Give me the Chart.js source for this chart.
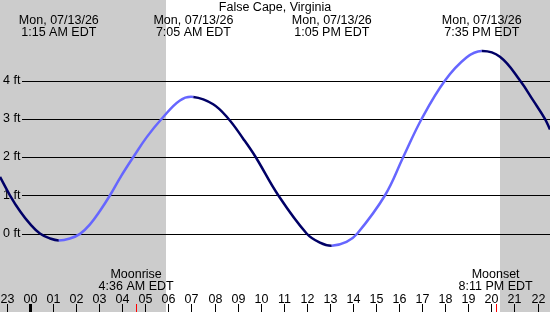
<!DOCTYPE html>
<html>
<head>
<meta charset="utf-8">
<script src="https://cdn.jsdelivr.net/npm/chart.js@4.4.1/dist/chart.umd.min.js"></script>
<style>
    html, body { margin: 0; padding: 0; background: #fff; }
    #wrap { width: 550px; height: 312px; }
</style>
</head>
<body>
<div id="wrap"><canvas id="tideChart" width="550" height="312"></canvas></div>
<script>
// tide curve (hours from midnight, feet)
const tideHours = [-1.30, -0.87, -0.43, 0.00, 0.43, 0.87, 1.25, 1.73, 2.17, 2.60, 3.03, 3.47, 3.95, 4.48, 5.06, 5.71, 6.50, 7.08, 7.94, 8.60, 9.24, 9.78, 10.76, 11.99, 12.57, 13.08, 13.72, 14.19, 15.39, 16.18, 16.98, 17.99, 18.92, 19.58, 20.37, 21.24, 21.81, 22.32, 22.54];
const tideFeet  = [1.48, 1.00, 0.58, 0.25, 0.00, -0.13, -0.18, -0.13, -0.01, 0.24, 0.59, 1.00, 1.50, 2.00, 2.52, 3.00, 3.48, 3.57, 3.38, 3.00, 2.48, 2.00, 1.00, 0.00, -0.24, -0.32, -0.22, 0.00, 1.00, 2.00, 3.00, 4.00, 4.60, 4.77, 4.62, 4.00, 3.48, 3.00, 2.72];

const feetTicks = [0, 1, 2, 3, 4];
const hourTicks  = [-1, 0, 1, 2, 3, 4, 5, 6, 7, 8, 9, 10, 11, 12, 13, 14, 15, 16, 17, 18, 19, 20, 21, 22];
const hourLabels = ['23', '00', '01', '02', '03', '04', '05', '06', '07', '08', '09', '10', '11', '12', '13', '14', '15', '16', '17', '18', '19', '20', '21', '22'];

const extremeHours = [1.25, 7.083, 13.083, 19.583];
const extremeDates = ['Mon, 07/13/26', 'Mon, 07/13/26', 'Mon, 07/13/26', 'Mon, 07/13/26'];
const extremeTimes = ['1:15 AM EDT', '7:05 AM EDT', '1:05 PM EDT', '7:35 PM EDT'];

const moonHours = [4.6, 20.183];
const moonNames = ['Moonrise', 'Moonset'];
const moonTimes = ['4:36 AM EDT', '8:11 PM EDT'];

const sunrise = 5.9;
const sunset = 20.367;

const title = 'False Cape, Virginia';
const FONT = '12.5px "Liberation Sans", Arial, sans-serif';
const FALLING = '#000066';
const RISING = '#6666ff';

const nightShade = {
    id: 'nightShade',
    beforeDraw(chart) {
        const { ctx, width, height } = chart;
        const x = chart.scales.x;
        const a = Math.round(x.getPixelForValue(sunrise));
        const b = Math.round(x.getPixelForValue(sunset));
        ctx.save();
        ctx.fillStyle = '#fff';
        ctx.fillRect(0, 0, width, height);
        ctx.fillStyle = '#cccccc';
        ctx.fillRect(0, 0, a, height);
        ctx.fillRect(b, 0, width - b, height);
        ctx.restore();
    }
};

const feetLines = {
    id: 'feetLines',
    beforeDatasetsDraw(chart) {
        const { ctx, width } = chart;
        const y = chart.scales.y;
        ctx.save();
        ctx.strokeStyle = '#000';
        ctx.lineWidth = 1;
        y.ticks.forEach(t => {
            const py = Math.round(y.getPixelForValue(t.value)) + 0.5;
            ctx.beginPath();
            ctx.moveTo(22, py);
            ctx.lineTo(width, py);
            ctx.stroke();
        });
        ctx.restore();
    }
};

const annotations = {
    id: 'annotations',
    afterDraw(chart) {
        const { ctx, width } = chart;
        const x = chart.scales.x;
        ctx.save();
        ctx.font = FONT;
        ctx.fillStyle = '#000';
        ctx.textAlign = 'center';
        ctx.textBaseline = 'alphabetic';

        ctx.fillText(title, width / 2, 11);

        extremeHours.forEach((h, i) => {
            const px = x.getPixelForValue(h);
            ctx.fillText(extremeDates[i], px, 24);
            ctx.fillText(extremeTimes[i], px, 36);
        });

        moonHours.forEach((h, i) => {
            const px = x.getPixelForValue(h);
            ctx.fillText(moonNames[i], px, 278);
            ctx.fillText(moonTimes[i], px, 289.5);
        });

        hourTicks.forEach((h, i) => {
            const px = Math.round(x.getPixelForValue(h));
            ctx.fillStyle = '#000';
            ctx.fillText(hourLabels[i], px + 0.5, 302.5);
            if (h === 0) ctx.fillRect(px - 1, 304, 3, 8);
            else ctx.fillRect(px, 304, 1, 8);
        });

        ctx.fillStyle = '#ff0000';
        moonHours.forEach(h => {
            const px = Math.round(x.getPixelForValue(h));
            ctx.fillRect(px, 304, 1, 8);
        });
        ctx.restore();
    }
};

const tidePoints = tideHours.map((h, i) => ({ x: h, y: tideFeet[i] }));

new Chart(document.getElementById('tideChart'), {
    type: 'line',
    data: {
        datasets: [{
            data: tidePoints,
            borderWidth: 2.5,
            borderColor: RISING,
            tension: 0.4,
            pointRadius: 0,
            fill: false,
            clip: false,
            segment: {
                borderColor: c => c.p1.parsed.y < c.p0.parsed.y ? FALLING : RISING
            }
        }]
    },
    options: {
        responsive: false,
        animation: false,
        events: [],
        layout: { padding: 0 },
        plugins: {
            legend: { display: false },
            tooltip: { enabled: false },
            title: { display: false }
        },
        scales: {
            x: {
                type: 'linear',
                display: false,
                min: -1.30,
                max: 22.54
            },
            y: {
                type: 'linear',
                position: 'left',
                min: -2.052,
                max: 6.105,
                grid: { display: false },
                border: { display: false },
                afterBuildTicks: axis => { axis.ticks = feetTicks.map(v => ({ value: v })); },
                afterFit: axis => {
                    axis.width = 0;
                    axis.paddingTop = 0;
                    axis.paddingBottom = 0;
                },
                ticks: {
                    mirror: true,
                    padding: 3,
                    color: '#000',
                    font: { family: '"Liberation Sans", Arial, sans-serif', size: 12.5 },
                    callback: v => v + ' ft'
                }
            }
        }
    },
    plugins: [nightShade, feetLines, annotations]
});
</script>
</body>
</html>
